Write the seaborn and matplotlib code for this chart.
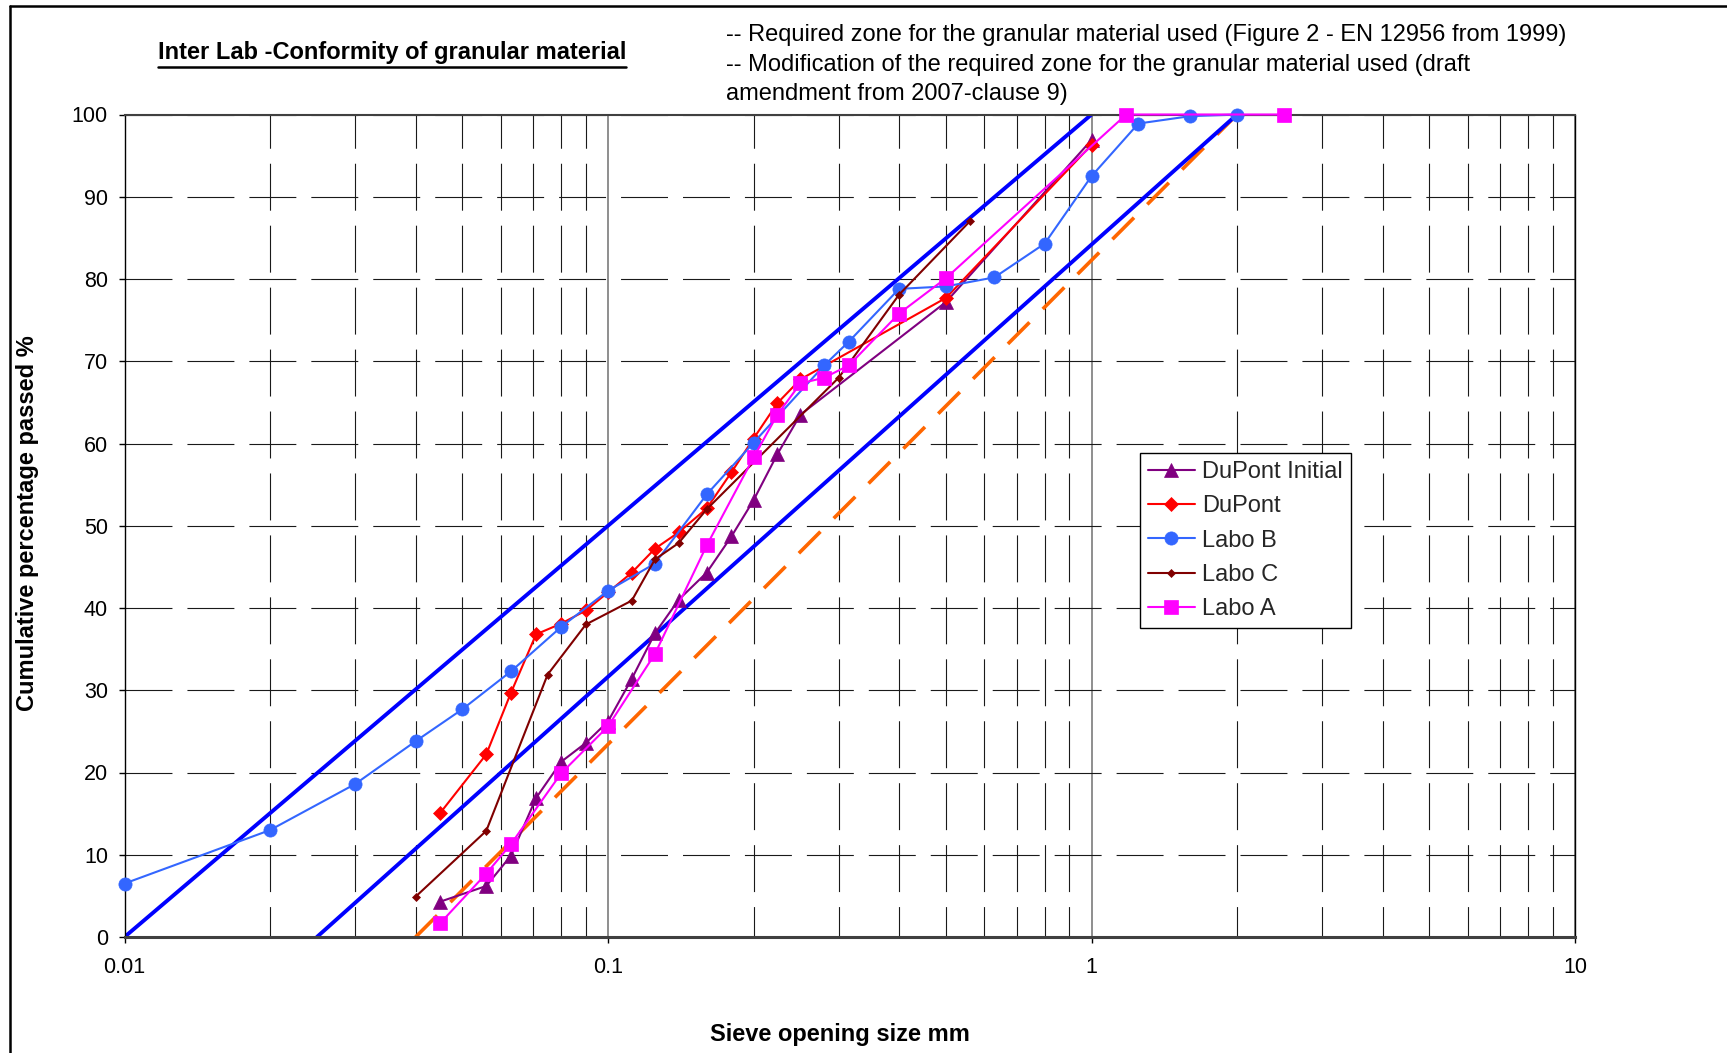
import matplotlib
matplotlib.use('Agg')
import matplotlib.pyplot as plt
import seaborn as sns
from matplotlib.lines import Line2D
from matplotlib.ticker import LogLocator, NullFormatter

sns.set_theme(style='white')
plt.rcParams['font.family'] = ['Liberation Sans', 'DejaVu Sans']
plt.rcParams['lines.scale_dashes'] = False

# sieve curves (sieve opening mm, cumulative % passed)
dupont_init_x = [0.045, 0.056, 0.063, 0.071, 0.08, 0.09, 0.1, 0.112, 0.125, 0.14, 0.16, 0.18, 0.2, 0.224, 0.25, 0.5, 1]
dupont_init_y = [4.3, 6.2, 9.9, 16.9, 21.3, 23.6, 26.2, 31.4, 36.9, 41.0, 44.3, 48.7, 53.1, 58.7, 63.5, 77.2, 96.9]

dupont_x = [0.045, 0.056, 0.063, 0.071, 0.08, 0.09, 0.1, 0.112, 0.125, 0.14, 0.16, 0.18, 0.2, 0.224, 0.25, 0.5, 1]
dupont_y = [15.1, 22.2, 29.7, 36.8, 38.1, 39.7, 41.9, 44.3, 47.2, 49.2, 52.1, 56.5, 60.6, 64.9, 67.8, 77.7, 96.3]

labo_b_x = [0.01, 0.02, 0.03, 0.04, 0.05, 0.063, 0.08, 0.1, 0.125, 0.16, 0.2, 0.28, 0.315, 0.4, 0.5, 0.63, 0.8, 1, 1.25, 1.6, 2]
labo_b_y = [6.5, 13.0, 18.6, 23.8, 27.7, 32.3, 37.7, 42.1, 45.4, 53.8, 60.1, 69.5, 72.4, 78.8, 79.1, 80.2, 84.3, 92.5, 98.9, 99.8, 100]

labo_c_x = [0.04, 0.056, 0.075, 0.09, 0.112, 0.125, 0.14, 0.16, 0.3, 0.4, 0.56]
labo_c_y = [4.9, 12.9, 31.9, 38.0, 40.9, 45.9, 47.9, 52.0, 68.0, 78.1, 87.0]

labo_a_x = [0.045, 0.056, 0.063, 0.08, 0.1, 0.125, 0.16, 0.2, 0.224, 0.25, 0.28, 0.315, 0.4, 0.5, 1.18, 2.5]
labo_a_y = [1.7, 7.7, 11.3, 19.9, 25.6, 34.4, 47.6, 58.3, 63.5, 67.3, 68.0, 69.5, 75.8, 80.1, 100, 100]

# required zone (1999) and its 2007 modification
zone_upper_x = [0.01, 1]
zone_upper_y = [0, 100]
zone_lower_x = [0.025, 2]
zone_lower_y = [0, 100]
zone_2007_x = [0.04, 2]
zone_2007_y = [0, 100]

series = [
    ('DuPont Initial', dupont_init_x, dupont_init_y, '#800080', '^', 9.5),
    ('DuPont', dupont_x, dupont_y, '#FF0000', 'D', 7.5),
    ('Labo B', labo_b_x, labo_b_y, '#3366FF', 'o', 9.5),
    ('Labo C', labo_c_x, labo_c_y, '#800000', 'D', 4.5),
    ('Labo A', labo_a_x, labo_a_y, '#FF00FF', 's', 9.5),
]

W, H = 1727, 1053
fig = plt.figure(figsize=(W / 100, H / 100), dpi=100)
ax = fig.add_axes([124.5 / W, 1 - 937 / H, (1575 - 124.5) / W, (937 - 114.5) / H])

sns.lineplot(x=zone_2007_x, y=zone_2007_y, color='#FF6600', linewidth=2.6,
             linestyle=(0, (22, 13.5)), ax=ax, zorder=2, legend=False)
sns.lineplot(x=zone_upper_x, y=zone_upper_y, color='#0000FF', linewidth=2.8, ax=ax, zorder=2, legend=False)
sns.lineplot(x=zone_lower_x, y=zone_lower_y, color='#0000FF', linewidth=2.8, ax=ax, zorder=2, legend=False)

for name, xs, ys, col, mk, ms in series:
    sns.lineplot(x=xs, y=ys, color=col, marker=mk, markersize=ms, markeredgecolor=col,
                 markeredgewidth=0.5, linewidth=1.5, label=name, sort=False,
                 errorbar=None, ax=ax, zorder=3, clip_on=False)

ax.set_xscale('log')
ax.set_xlim(0.01, 10)
ax.set_ylim(0, 100)
ax.set_xlabel('')
ax.set_ylabel('')

ax.set_xticks([0.01, 0.1, 1, 10])
ax.set_xticklabels(['0.01', '0.1', '1', '10'])
ax.xaxis.set_minor_locator(LogLocator(base=10, subs=range(2, 10)))
ax.xaxis.set_minor_formatter(NullFormatter())
ax.set_yticks(range(0, 101, 10))

ax.tick_params(axis='y', which='major', left=True, direction='out', length=4.3, width=1,
               color='black', pad=7.6, labelsize=15.5, labelcolor='black')
ax.tick_params(axis='x', which='major', bottom=True, direction='out', length=4.3, width=1,
               color='black', pad=10, labelsize=15.5, labelcolor='black')
ax.tick_params(axis='x', which='minor', bottom=False, length=0)

ax.set_axisbelow(True)
ax.grid(True, which='major', axis='y', color='#1a1a1a', linewidth=0.8, linestyle=(0, (33.8, 10.8)))
ax.grid(True, which='minor', axis='x', color='#1a1a1a', linewidth=0.8, linestyle=(11.9, (33.8, 10.8)))
ax.grid(True, which='major', axis='x', color='#707070', linewidth=1.1, linestyle='-')

for side, col, lw in [('left', 'black', 1.0), ('right', 'black', 1.0),
                      ('top', '#404040', 1.5), ('bottom', '#404040', 2.2)]:
    ax.spines[side].set_visible(True)
    ax.spines[side].set_color(col)
    ax.spines[side].set_linewidth(lw)

handles, labels = ax.get_legend_handles_labels()
order = [labels.index(s[0]) for s in series]
leg = ax.legend([handles[i] for i in order], [labels[i] for i in order],
                loc='upper left', bbox_to_anchor=(1139.5 / W, 1 - 452.7 / H),
                bbox_transform=fig.transFigure, borderaxespad=0, fontsize=17,
                frameon=True, fancybox=False, shadow=False, framealpha=1,
                edgecolor='black', handlelength=2.0, handletextpad=0.3,
                labelspacing=0.52, borderpad=0.35)
leg.get_frame().set_linewidth(1.0)

# texts
title = fig.text(391.7 / W, 1 - 58.5 / H, 'Inter Lab -Conformity of granular material',
                 ha='center', va='baseline', fontsize=17, fontweight='bold', color='black')
notes = ['-- Required zone for the granular material used (Figure 2 - EN 12956 from 1999)',
         '-- Modification of the required zone for the granular material used (draft',
         'amendment from 2007-clause 9)']
for i, line in enumerate(notes):
    fig.text(726 / W, 1 - (41 + 29.7 * i) / H, line, ha='left', va='baseline',
             fontsize=17, color='black')

fig.text(27.5 / W, 1 - 523 / H, 'Cumulative percentage passed %', rotation=90,
         ha='center', va='center', fontsize=17, fontweight='bold', color='black')
fig.text(839.6 / W, 1 - 1035 / H, 'Sieve opening size mm', ha='center', va='center',
         fontsize=17, fontweight='bold', color='black')

# chart area border (top and left)
fig.add_artist(Line2D([10 / W, 1], [1 - 5.5 / H, 1 - 5.5 / H], color='black', lw=1.8))
fig.add_artist(Line2D([10 / W, 10 / W], [0, 1 - 5.5 / H], color='black', lw=1.8))

# underline the title
fig.canvas.draw()
bb = title.get_window_extent(fig.canvas.get_renderer())
fig.add_artist(Line2D([bb.x0 / W, bb.x1 / W], [1 - 66.5 / H, 1 - 66.5 / H], color='black', lw=1.8))

fig.savefig('out.png', dpi=100)
